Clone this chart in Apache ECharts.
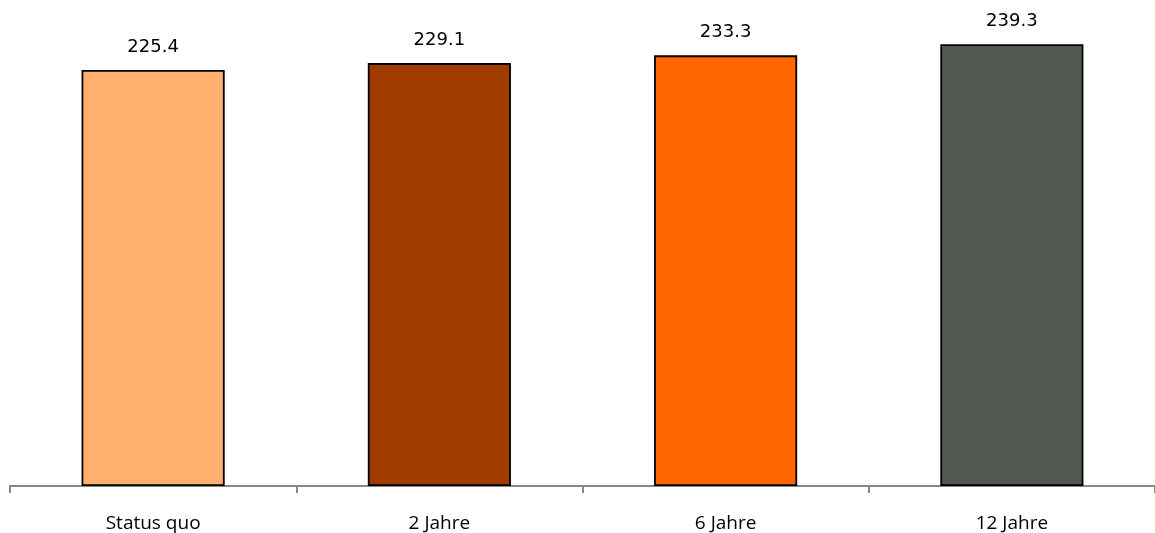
<!DOCTYPE html>
<html>
<head>
<meta charset="utf-8">
<script src="https://cdn.jsdelivr.net/npm/echarts@6/dist/echarts.min.js"></script>
<style>html,body{margin:0;padding:0;background:#fff}#c{width:1155px;height:533px}</style>
</head>
<body>
<div id="c"></div>
<script>
var categories = ['Status quo', '2 Jahre', '6 Jahre', '12 Jahre'];
var values = [225.4, 229.1, 233.3, 239.3];
var colors = ['#FFB06F', '#A03C00', '#FF6600', '#525752'];

var chart = echarts.init(document.getElementById('c'), null, {renderer: 'canvas'});
chart.setOption({
  animation: false,
  grid: {left: 10, width: 1149, top: 24.5, bottom: 47, containLabel: false},
  xAxis: {
    type: 'category',
    data: categories,
    axisLine: {show: true, lineStyle: {color: '#868686', width: 2}},
    axisTick: {show: true, length: 7, lineStyle: {color: '#868686', width: 2}},
    axisLabel: {color: '#000', fontFamily: 'Open Sans', fontSize: 19, margin: 28}
  },
  yAxis: {
    type: 'value', min: 0, max: 250, show: false,
    splitLine: {show: false}
  },
  series: [{
    type: 'bar',
    barWidth: '50%',
    data: values.map(function (v, i) {
      return {value: v, itemStyle: {color: colors[i]}};
    }),
    itemStyle: {borderColor: '#000', borderWidth: 1.8},
    label: {
      show: true, position: 'top', distance: 14,
      color: '#000', fontFamily: 'DejaVu Sans', fontSize: 18,
      formatter: function (p) { return p.value.toFixed(1); }
    }
  }]
});
</script>
</body>
</html>
